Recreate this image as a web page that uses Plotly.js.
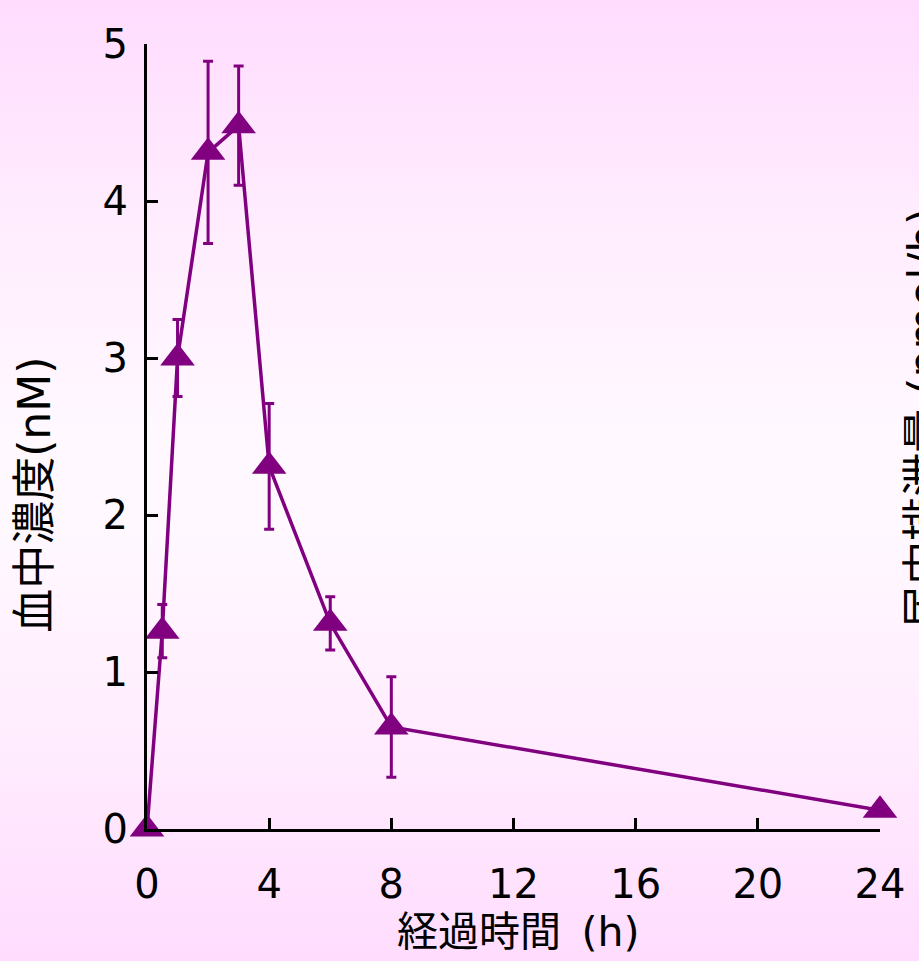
<!DOCTYPE html>
<html>
<head>
<meta charset="utf-8">
<script src="https://cdn.plot.ly/plotly-3.0.1.min.js"></script>
<style>
html, body { margin:0; padding:0; }
body { width:919px; height:961px; overflow:hidden;
  background: linear-gradient(to bottom, #ffdcfe 0%, #ffeefe 25%, #fff8ff 45%, #fff8ff 55%, #ffeefe 75%, #ffdcfe 100%); }
#chart { width:919px; height:961px; }
</style>
</head>
<body>
<div id="chart"></div>
<script>
// Data
const timeHours = [0, 0.5, 1, 2, 3, 4, 6, 8, 24];
const concentration = [0, 1.26, 3.0, 4.31, 4.48, 2.31, 1.31, 0.65, 0.12];
const errorSD = [0, 0.17, 0.245, 0.58, 0.38, 0.40, 0.17, 0.32, 0];
const xTicks = [0, 4, 8, 12, 16, 20, 24];
const yTicks = [0, 1, 2, 3, 4, 5];
const xTitle = '経過時間\u2002(h)';
const yTitle = '血中濃度(nM)';
const y2Title = '尿中排泄量 (pmol/h)';

const purple = '#800080';
const trace = {
  x: timeHours, y: concentration, type: 'scatter', mode: 'lines+markers',
  line: {color: purple, width: 3.5},
  marker: {symbol: 'triangle-up', size: 30, color: purple},
  error_y: {type: 'data', array: errorSD, visible: true, color: purple, thickness: 3, width: 5},
  cliponaxis: false, hoverinfo: 'skip'
};

const font = "DejaVu Sans, sans-serif";
const mixed = "'DejaVu Sans', 'Noto Sans CJK JP', sans-serif";
const layout = {
  width: 919, height: 961,
  margin: {l: 147, r: 39, t: 44, b: 132},
  paper_bgcolor: 'rgba(0,0,0,0)', plot_bgcolor: 'rgba(0,0,0,0)',
  showlegend: false,
  xaxis: {
    range: [0, 24], tickvals: xTicks, ticktext: xTicks.map(String),
    showgrid: false, zeroline: false, showline: true, linecolor: '#000', linewidth: 3,
    ticks: 'inside', ticklen: 11, tickwidth: 3, tickcolor: '#000',
    tickfont: {family: font, size: 40, color: '#000'}, ticklabelstandoff: 18
  },
  yaxis: {
    range: [0, 5], tickvals: yTicks, ticktext: yTicks.map(String),
    showgrid: false, zeroline: false, showline: true, linecolor: '#000', linewidth: 3,
    ticks: 'inside', ticklen: 11, tickwidth: 3, tickcolor: '#000',
    tickfont: {family: font, size: 40, color: '#000'}, ticklabelstandoff: 8
  },
  annotations: [
    {text: xTitle, xref: 'paper', yref: 'paper', x: 0.506, y: -0.131, showarrow: false,
     xanchor: 'center', yanchor: 'middle', font: {family: mixed, size: 41, color: '#000'}},
    {text: yTitle, xref: 'paper', yref: 'paper', x: -0.153, y: 0.4255, showarrow: false,
     textangle: -90, xanchor: 'center', yanchor: 'middle', font: {family: mixed, size: 44, color: '#000'}},
    {text: y2Title, xref: 'paper', yref: 'paper', x: 1.061, y: 0.5236, showarrow: false,
     textangle: -90, xanchor: 'center', yanchor: 'middle', font: {family: mixed, size: 44, color: '#000'}}
  ]
};
Plotly.newPlot('chart', [trace], layout, {displayModeBar: false, staticPlot: true});
</script>
</body>
</html>
